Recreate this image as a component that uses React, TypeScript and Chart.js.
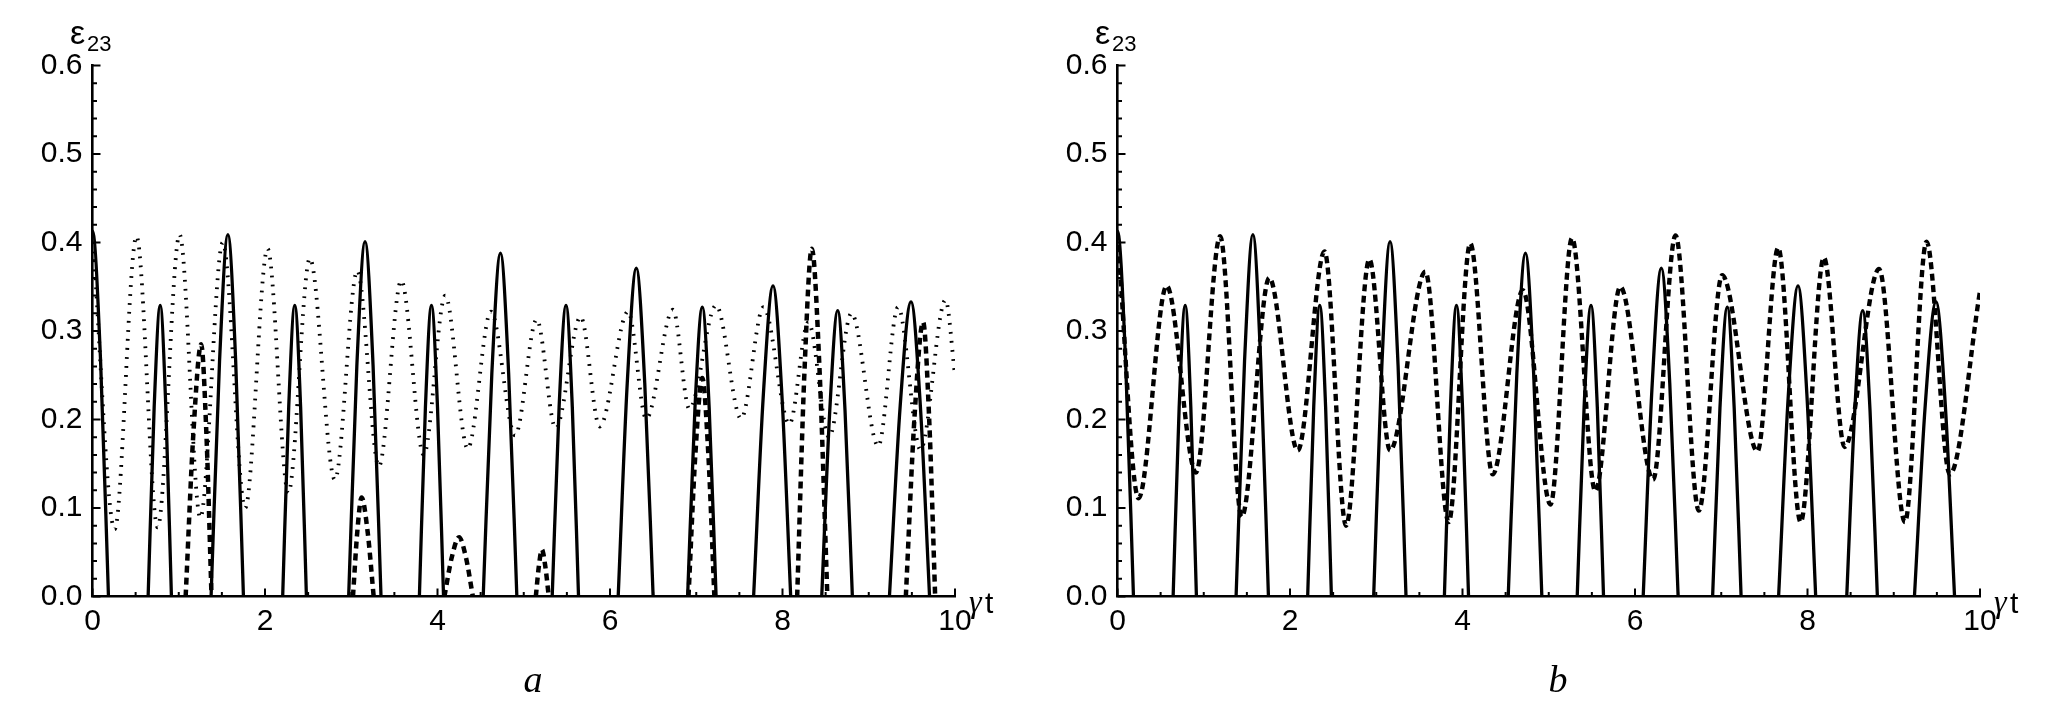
import React, { useEffect, useRef } from "react";
import { Chart, registerables } from "chart.js";

Chart.register(...registerables);

// ---------- axis ticks ----------
const yTickValues = [0, 0.1, 0.2, 0.3, 0.4, 0.5, 0.6];
const yTickLabels = ["0.0", "0.1", "0.2", "0.3", "0.4", "0.5", "0.6"];
const yMinorTicks = [0.02, 0.04, 0.06, 0.08, 0.12, 0.14, 0.16, 0.18, 0.22, 0.24, 0.26, 0.28, 0.32, 0.34, 0.36, 0.38, 0.42, 0.44, 0.46, 0.48, 0.52, 0.54, 0.56, 0.58];
const xTickValues = [0, 2, 4, 6, 8, 10];
const xTickLabels = ["0", "2", "4", "6", "8", "10"];
const xMinorTicks = [0.5, 1, 1.5, 2.5, 3, 3.5, 4.5, 5, 5.5, 6.5, 7, 7.5, 8.5, 9, 9.5];

// ---------- solid curve (same in a and b): arches separated by gaps ----------
const solidT = [
  -0.19, -0.095, 0, 0.093, 0.185, 0.4,
  0.645, 0.715, 0.785, 0.85, 0.915, 1.1,
  1.375, 1.473, 1.57, 1.66, 1.75, 2.0,
  2.205, 2.275, 2.345, 2.413, 2.48, 2.7,
  2.97, 3.065, 3.16, 3.253, 3.345, 3.6,
  3.79, 3.86, 3.93, 4.0, 4.07, 4.3,
  4.53, 4.63, 4.73, 4.825, 4.92, 5.1,
  5.33, 5.41, 5.49, 5.563, 5.635, 5.9,
  6.095, 6.2, 6.305, 6.403, 6.5, 6.7,
  6.9, 6.985, 7.07, 7.15, 7.23, 7.4,
  7.665, 7.778, 7.89, 7.993, 8.095, 8.3,
  8.455, 8.548, 8.64, 8.725, 8.81, 9.0,
  9.24, 9.365, 9.49, 9.598, 9.705,
];
const solidE = [
  0, 0.268, 0.413, 0.268, 0, null,
  0, 0.214, 0.329, 0.214, 0, null,
  0, 0.266, 0.409, 0.266, 0, null,
  0, 0.214, 0.329, 0.214, 0, null,
  0, 0.261, 0.401, 0.261, 0, null,
  0, 0.214, 0.329, 0.214, 0, null,
  0, 0.252, 0.388, 0.252, 0, null,
  0, 0.214, 0.329, 0.214, 0, null,
  0, 0.241, 0.371, 0.241, 0, null,
  0, 0.213, 0.327, 0.213, 0, null,
  0, 0.228, 0.351, 0.228, 0, null,
  0, 0.21, 0.323, 0.21, 0, null,
  0, 0.216, 0.333, 0.216, 0,
];

// ---------- panel a: thick dashed bursts ----------
const dashedAT = [
  1.08, 1.17, 1.26, 1.32, 1.38, 2.0,
  3.02, 3.07, 3.12, 3.19, 3.26, 3.7,
  4.08, 4.165, 4.25, 4.33, 4.41, 4.8,
  5.14, 5.175, 5.21, 5.25, 5.29, 6.0,
  6.91, 6.99, 7.07, 7.14, 7.21, 7.7,
  8.17, 8.255, 8.34, 8.43, 8.52, 9.0,
  9.43, 9.53, 9.63, 9.7, 9.77,
];
const dashedAE = [
  0, 0.185, 0.285, 0.185, 0, null,
  0, 0.073, 0.112, 0.073, 0, null,
  0, 0.044, 0.067, 0.044, 0, null,
  0, 0.034, 0.053, 0.034, 0, null,
  0, 0.161, 0.247, 0.161, 0, null,
  0, 0.255, 0.393, 0.255, 0, null,
  0, 0.202, 0.31, 0.202, 0,
];

// ---------- panel a: dotted oscillation (extrema) ----------
const dottedAT = [0, 0.257, 0.51, 0.755, 1.01, 1.25, 1.51, 1.77, 2.03, 2.27, 2.52, 2.81, 3.07, 3.32, 3.58, 3.84, 4.09, 4.35, 4.62, 4.9, 5.15, 5.37, 5.66, 5.88, 6.21, 6.42, 6.73, 6.92, 7.23, 7.52, 7.78, 8.08, 8.3, 8.54, 8.8, 9.11, 9.34, 9.6, 9.89, 10];
const dottedAE = [0.41, 0.076, 0.407, 0.078, 0.409, 0.089, 0.4, 0.1, 0.393, 0.117, 0.382, 0.132, 0.368, 0.147, 0.357, 0.16, 0.34, 0.167, 0.322, 0.182, 0.313, 0.19, 0.316, 0.192, 0.322, 0.201, 0.324, 0.212, 0.329, 0.201, 0.327, 0.195, 0.31, 0.18, 0.32, 0.17, 0.327, 0.166, 0.335, 0.25];

// ---------- panel b: dashed oscillation (extrema) ----------
const dashedBT = [0, 0.244, 0.57, 0.91, 1.19, 1.44, 1.76, 2.09, 2.4, 2.65, 2.92, 3.16, 3.57, 3.84, 4.09, 4.35, 4.7, 5.02, 5.27, 5.54, 5.83, 6.21, 6.47, 6.74, 7.01, 7.42, 7.66, 7.92, 8.19, 8.43, 8.83, 9.13, 9.38, 9.65, 10];
const dashedBE = [0.41, 0.111, 0.351, 0.14, 0.407, 0.09, 0.36, 0.165, 0.39, 0.08, 0.381, 0.165, 0.367, 0.084, 0.399, 0.138, 0.346, 0.104, 0.405, 0.119, 0.35, 0.132, 0.408, 0.097, 0.363, 0.164, 0.394, 0.084, 0.383, 0.169, 0.37, 0.084, 0.401, 0.138, 0.345];

const toPoints = (xs: number[], ys: (number | null)[]) => xs.map((x, i) => ({ x, y: ys[i] }));

const CANVAS_W = 1030;
const CANVAS_H = 708;
const AREA_LEFT = 92.5;
const AREA_RIGHT = 955;
const AREA_TOP = 65.5;
const AREA_BOTTOM = 596.5;
const X_AXIS_H = 50;
const TICK_FONT = "'Liberation Sans', Arial, sans-serif";

const innerTicks = {
  id: "innerTicks",
  afterDraw(chart: any) {
    const { ctx, chartArea, scales } = chart;
    const xs = scales.x;
    const ys = scales.y;
    ctx.save();
    ctx.strokeStyle = "#000";
    ctx.lineWidth = 2;
    ctx.beginPath();
    yTickValues.forEach((v) => {
      const p = ys.getPixelForValue(v);
      ctx.moveTo(chartArea.left, p);
      ctx.lineTo(chartArea.left + 8, p);
    });
    yMinorTicks.forEach((v) => {
      const p = ys.getPixelForValue(v);
      ctx.moveTo(chartArea.left, p);
      ctx.lineTo(chartArea.left + 4.5, p);
    });
    xTickValues.forEach((v) => {
      const p = xs.getPixelForValue(v);
      ctx.moveTo(p, chartArea.bottom);
      ctx.lineTo(p, chartArea.bottom - 8);
    });
    xMinorTicks.forEach((v) => {
      const p = xs.getPixelForValue(v);
      ctx.moveTo(p, chartArea.bottom);
      ctx.lineTo(p, chartArea.bottom - 4.5);
    });
    ctx.stroke();
    ctx.restore();
  },
};

function makeConfig(datasets: any[]): any {
  return {
    type: "line",
    data: { datasets },
    plugins: [innerTicks],
    options: {
      animation: false,
      responsive: false,
      maintainAspectRatio: false,
      devicePixelRatio: 1,
      events: [],
      layout: {
        padding: {
          left: 0,
          right: CANVAS_W - AREA_RIGHT,
          top: AREA_TOP,
          bottom: CANVAS_H - AREA_BOTTOM - X_AXIS_H,
        },
      },
      plugins: { legend: { display: false }, tooltip: { enabled: false }, title: { display: false } },
      elements: { point: { radius: 0 } },
      scales: {
        x: {
          type: "linear",
          min: 0,
          max: 10,
          afterFit: (s: any) => { s.height = X_AXIS_H; },
          afterBuildTicks: (s: any) => { s.ticks = xTickValues.map((v) => ({ value: v })); },
          grid: { display: false, drawTicks: false },
          border: { display: true, color: "#000", width: 2.6 },
          ticks: {
            autoSkip: false,
            maxRotation: 0,
            padding: 7,
            color: "#000",
            font: { family: TICK_FONT, size: 30 },
            callback: (_v: any, i: number) => xTickLabels[i],
          },
        },
        y: {
          type: "linear",
          min: 0,
          max: 0.6,
          afterFit: (s: any) => { s.width = AREA_LEFT; },
          afterBuildTicks: (s: any) => { s.ticks = yTickValues.map((v) => ({ value: v })); },
          grid: { display: false, drawTicks: false },
          border: { display: true, color: "#000", width: 2.6 },
          ticks: {
            autoSkip: false,
            padding: 10,
            color: "#000",
            font: { family: TICK_FONT, size: 30 },
            callback: (_v: any, i: number) => yTickLabels[i],
          },
        },
      },
    },
  };
}

const base = {
  fill: false,
  pointRadius: 0,
  borderColor: "#000",
  cubicInterpolationMode: "monotone",
  spanGaps: false,
  borderCapStyle: "butt",
};

function datasetsA() {
  return [
    { ...base, label: "solid", data: toPoints(solidT, solidE), borderWidth: 3.3 },
    { ...base, label: "dashed", data: toPoints(dashedAT, dashedAE), borderWidth: 4.5, borderDash: [7, 5] },
    { ...base, label: "dotted", data: toPoints(dottedAT, dottedAE), borderWidth: 3.8, borderDash: [1.8, 7.2] },
  ];
}

function datasetsB() {
  return [
    { ...base, label: "solid", data: toPoints(solidT, solidE), borderWidth: 3.3 },
    { ...base, label: "dashed", data: toPoints(dashedBT, dashedBE), borderWidth: 4.4, borderDash: [7, 4.5] },
  ];
}

const PANEL_B_OFFSET = 1025;

function Labels({ dx, letter }: { dx: number; letter: string }) {
  const sans = "'Liberation Sans', Arial, sans-serif";
  const serif = "'Liberation Serif', 'Times New Roman', serif";
  const common: React.CSSProperties = { position: "absolute", whiteSpace: "nowrap", color: "#000" };
  return (
    <>
      <div style={{ ...common, left: 70 + dx, top: 15, fontFamily: sans, fontSize: 34, lineHeight: "34px" }}>ε</div>
      <div style={{ ...common, left: 87 + dx, top: 33, fontFamily: sans, fontSize: 22, lineHeight: "22px" }}>23</div>
      <div style={{ ...common, left: 969 + dx, top: 585, fontFamily: serif, fontStyle: "italic", fontSize: 32, lineHeight: "32px" }}>γ</div>
      <div style={{ ...common, left: 985 + dx, top: 587.6, fontFamily: sans, fontSize: 30, lineHeight: "30px" }}>t</div>
      <div style={{ ...common, left: 513 + dx, width: 40, textAlign: "center", top: 660, fontFamily: serif, fontStyle: "italic", fontSize: 38, lineHeight: "38px" }}>{letter}</div>
    </>
  );
}

export default function App() {
  const refA = useRef<HTMLCanvasElement>(null);
  const refB = useRef<HTMLCanvasElement>(null);

  useEffect(() => {
    const ca = new Chart(refA.current as HTMLCanvasElement, makeConfig(datasetsA()));
    const cb = new Chart(refB.current as HTMLCanvasElement, makeConfig(datasetsB()));
    return () => {
      ca.destroy();
      cb.destroy();
    };
  }, []);

  const canvasStyle = (left: number): React.CSSProperties => ({
    position: "absolute",
    left,
    top: 0,
    width: CANVAS_W,
    height: CANVAS_H,
  });

  return (
    <div style={{ position: "fixed", left: 0, top: 0, width: 2064, height: 708, background: "#fff", overflow: "hidden" }}>
      <canvas ref={refA} width={CANVAS_W} height={CANVAS_H} style={canvasStyle(0)} />
      <canvas ref={refB} width={CANVAS_W} height={CANVAS_H} style={canvasStyle(PANEL_B_OFFSET)} />
      <Labels dx={0} letter="a" />
      <Labels dx={PANEL_B_OFFSET} letter="b" />
    </div>
  );
}
